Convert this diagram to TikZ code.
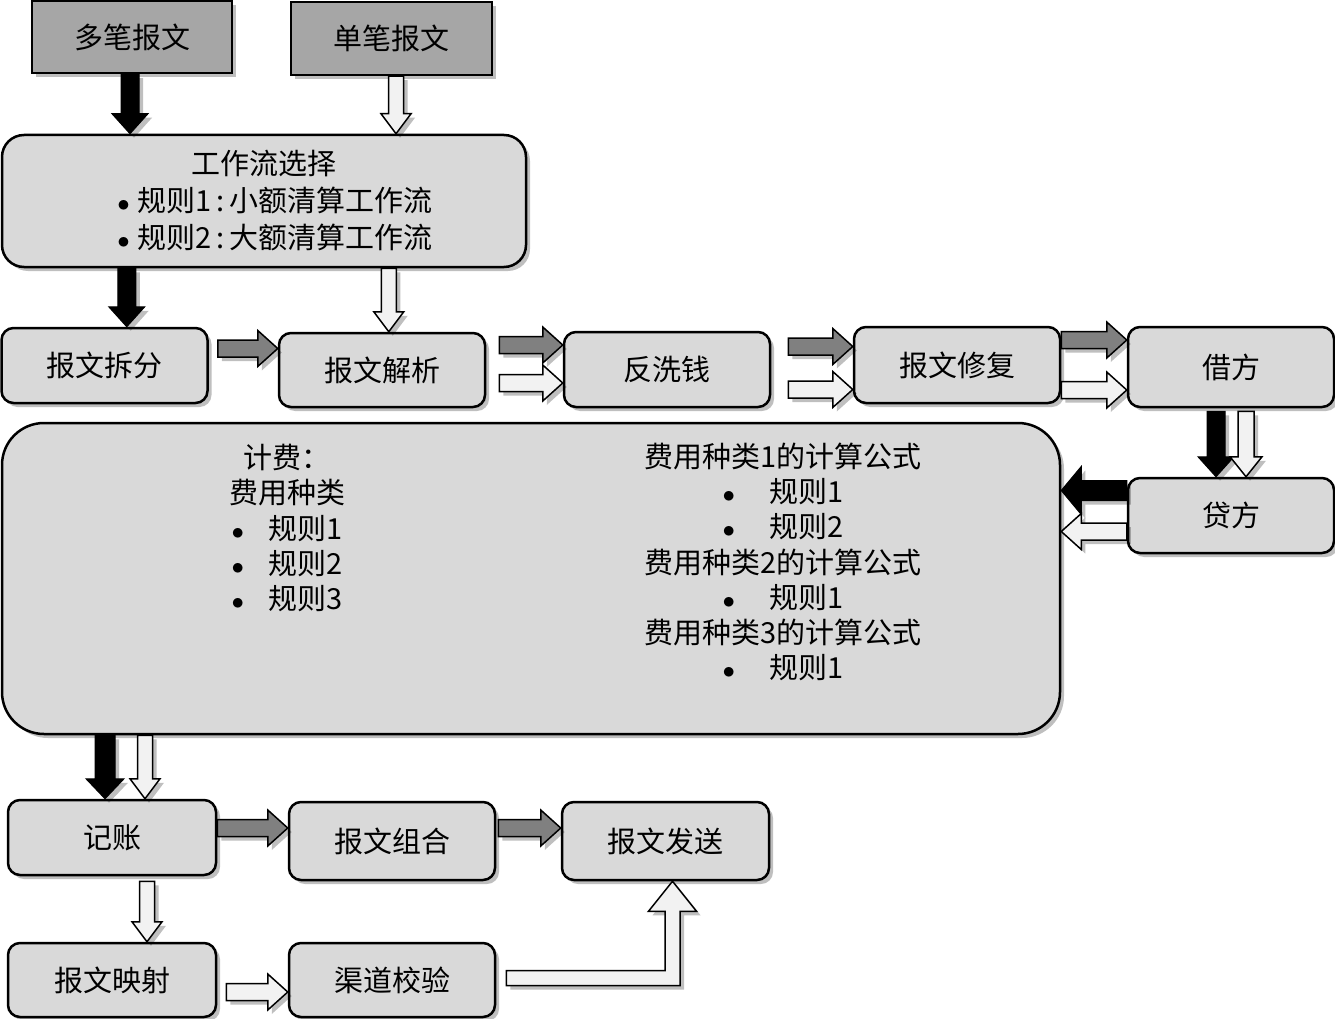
\documentclass[tikz,border=0pt]{standalone}
\usepackage{fontspec}
\setmainfont{Noto Sans CJK SC}
\usetikzlibrary{calc, shadows}
\definecolor{srcgray}{HTML}{A6A6A6}
\definecolor{procgray}{HTML}{D9D9D9}
\definecolor{arrgray}{HTML}{808080}
\definecolor{arrwhite}{HTML}{F2F2F2}
\newcommand{\boxfont}{\fontsize{29}{35}\selectfont}
% block arrow: [style]{from}{to}{shaft half width}{head half width}
\newcommand{\blockarrow}[5][]{%
  \coordinate (ba-h) at ($(#3)!20pt!(#2)$);
  \draw[#1] ($(#2)!#4!90:(#3)$) -- ($(ba-h)!#4!90:(#3)$) -- ($(ba-h)!#5!90:(#3)$) -- (#3)
    -- ($(ba-h)!#5!-90:(#3)$) -- ($(ba-h)!#4!-90:(#3)$) -- ($(#2)!#4!-90:(#3)$) -- cycle;}
\tikzset{
  softshadow/.style={drop shadow={shadow xshift=4pt, shadow yshift=-4pt, fill=black, opacity=0.25}},
  srcbox/.style={draw, line width=2.5pt, fill=srcgray, minimum width=200pt, minimum height=72pt,
    font=\boxfont, softshadow},
  procbox/.style={draw, line width=2.5pt, rounded corners=12pt, fill=procgray, minimum width=206pt,
    minimum height=75pt, font=\boxfont, softshadow},
  feetext/.style={align=center, font=\fontsize{29}{35.3}\selectfont},
  blk/.style={fill=black, draw=black, line width=1pt, softshadow},
  gry/.style={fill=arrgray, draw=black, line width=1.5pt, softshadow},
  wht/.style={fill=arrwhite, draw=black, line width=1.5pt, softshadow},
}
\begin{document}
\begin{tikzpicture}[x=1pt, y=-1pt]
  \useasboundingbox (0,0) rectangle (1335,1019);
  % input messages
  \node[srcbox] (multi) at (132,37) {多笔报文};
  \node[srcbox, minimum width=201pt, minimum height=73pt] (single) at (391.5,38.5) {单笔报文};
  % workflow selection
  \node[procbox, minimum width=524pt, minimum height=132pt, rounded corners=22pt, align=center,
    font=\fontsize{29}{37}\selectfont] (wf) at (264,201)
    {工作流选择\\\hspace*{22pt}$\bullet$\hspace{8pt}规则1\,:\,小额清算工作流\\\hspace*{22pt}$\bullet$\hspace{8pt}规则2\,:\,大额清算工作流};
  % processing row
  \node[procbox] (split) at (104.5,365.5) {报文拆分};
  \node[procbox, minimum height=74pt] (parse) at (382,370) {报文解析};
  \node[procbox] (aml) at (667,369.5) {反洗钱};
  \node[procbox, minimum height=76pt] (repair) at (957,365) {报文修复};
  \node[procbox, minimum height=80pt] (debit) at (1231,367) {借方};
  \node[procbox] (credit) at (1231,515.5) {贷方};
  % charging
  \node[procbox, minimum width=1058pt, minimum height=311pt, rounded corners=42pt] (fee) at (531,578.5) {};
  \node[feetext] (feeL) at (287,528)
    {计费：\\费用种类\\$\bullet$\hspace{24pt}规则1\\$\bullet$\hspace{24pt}规则2\\$\bullet$\hspace{24pt}规则3};
  \node[feetext] (feeR) at (783,562)
    {费用种类1的计算公式\\$\bullet$\hspace{34pt}规则1\\$\bullet$\hspace{34pt}规则2\\费用种类2的计算公式\\
     $\bullet$\hspace{34pt}规则1\\费用种类3的计算公式\\$\bullet$\hspace{34pt}规则1};
  % output row
  \node[procbox, minimum width=208pt] (post) at (112,837.5) {记账};
  \node[procbox, minimum height=78pt] (combine) at (392,841) {报文组合};
  \node[procbox, minimum width=207pt, minimum height=78pt] (send) at (665.5,841) {报文发送};
  \node[procbox, minimum width=208pt, minimum height=74pt] (map) at (112,980) {报文映射};
  \node[procbox, minimum height=74pt] (check) at (392,980) {渠道校验};

  % arrow end points
  \coordinate (a1s) at ([xshift=-2pt]multi.south);
  \coordinate (a1e) at (a1s |- wf.north);
  \coordinate (a2s) at ([xshift=4.5pt]single.south);
  \coordinate (a2e) at (a2s |- wf.north);
  \coordinate (a3s) at ([xshift=126pt]wf.south west);
  \coordinate (a3e) at (a3s |- split.north);
  \coordinate (a4s) at ([xshift=388pt]wf.south west);
  \coordinate (a4e) at (a4s |- parse.north);
  \coordinate (a5s) at ([xshift=9pt,yshift=17pt]split.east);
  \coordinate (a5e) at (a5s -| parse.west);
  \coordinate (a6s) at ([xshift=13pt,yshift=25pt]parse.east);
  \coordinate (a6e) at (a6s -| aml.west);
  \coordinate (a7s) at ([xshift=13pt,yshift=-13pt]parse.east);
  \coordinate (a7e) at (a7s -| aml.west);
  \coordinate (a8s) at ([xshift=17pt,yshift=23pt]aml.east);
  \coordinate (a8e) at (a8s -| repair.west);
  \coordinate (a9s) at ([xshift=17pt,yshift=-20pt]aml.east);
  \coordinate (a9e) at (a9s -| repair.west);
  \coordinate (a10s) at ([yshift=25pt]repair.east);
  \coordinate (a10e) at (a10s -| debit.west);
  \coordinate (a11s) at ([yshift=-25pt]repair.east);
  \coordinate (a11e) at (a11s -| debit.west);
  \coordinate (a12s) at ([xshift=-15pt,yshift=-3pt]debit.south);
  \coordinate (a12e) at (a12s |- credit.north);
  \coordinate (a13s) at ([xshift=15pt,yshift=-3pt]debit.south);
  \coordinate (a13e) at (a13s |- credit.north);
  \coordinate (a14s) at ([yshift=25pt]credit.west);
  \coordinate (a14e) at (a14s -| fee.east);
  \coordinate (a15s) at ([yshift=-16pt]credit.west);
  \coordinate (a15e) at (a15s -| fee.east);
  \coordinate (a16e) at ([xshift=-7pt]post.north);
  \coordinate (a16s) at (a16e |- fee.south);
  \coordinate (a17e) at ([xshift=33pt]post.north);
  \coordinate (a17s) at (a17e |- fee.south);
  \coordinate (a18s) at ([yshift=9.5pt]post.east);
  \coordinate (a18e) at (a18s -| combine.west);
  \coordinate (a19s) at ([xshift=2pt,yshift=13pt]combine.east);
  \coordinate (a19e) at (a19s -| send.west);
  \coordinate (a20s) at ([xshift=35pt,yshift=-5pt]post.south);
  \coordinate (a20e) at (a20s |- map.north);
  \coordinate (a21s) at ([xshift=9pt,yshift=-12pt]map.east);
  \coordinate (a21e) at (a21s -| check.west);

  % block arrows
  \blockarrow[blk]{a1s}{a1e}{9pt}{18pt}
  \blockarrow[wht]{a2s}{a2e}{7.5pt}{15pt}
  \blockarrow[blk]{a3s}{a3e}{9pt}{18pt}
  \blockarrow[wht]{a4s}{a4e}{7.5pt}{15pt}
  \blockarrow[gry]{a5s}{a5e}{8.5pt}{18pt}
  \blockarrow[gry]{a6s}{a6e}{8.5pt}{18pt}
  \blockarrow[wht]{a7s}{a7e}{8.5pt}{18pt}
  \blockarrow[gry]{a8s}{a8e}{8.5pt}{18pt}
  \blockarrow[wht]{a9s}{a9e}{8.5pt}{18pt}
  \blockarrow[gry]{a10s}{a10e}{8.5pt}{18pt}
  \blockarrow[wht]{a11s}{a11e}{8.5pt}{18pt}
  \blockarrow[blk]{a12s}{a12e}{9pt}{18pt}
  \blockarrow[wht]{a13s}{a13e}{8pt}{16pt}
  \blockarrow[blk]{a14s}{a14e}{10pt}{24pt}
  \blockarrow[wht]{a15s}{a15e}{8.5pt}{18pt}
  \blockarrow[blk]{a16s}{a16e}{10pt}{19pt}
  \blockarrow[wht]{a17s}{a17e}{7.5pt}{15pt}
  \blockarrow[gry]{a18s}{a18e}{8.5pt}{18pt}
  \blockarrow[gry]{a19s}{a19e}{8.5pt}{18pt}
  \blockarrow[wht]{a20s}{a20e}{7.5pt}{15pt}
  \blockarrow[wht]{a21s}{a21e}{8.5pt}{18pt}

  % elbow arrow from channel check up to sending
  \coordinate (e0) at ([xshift=10pt,yshift=2pt]check.east);
  \coordinate (e2) at ([xshift=7pt]send.south);
  \coordinate (e1) at (e0 -| e2);
  \draw[wht] ([yshift=-7.5pt]e0) -- ([xshift=7.5pt,yshift=-7.5pt]e1) -- ([xshift=7.5pt,yshift=-30pt]e2)
    -- ([xshift=24pt,yshift=-30pt]e2) -- (e2) -- ([xshift=-24pt,yshift=-30pt]e2)
    -- ([xshift=-7.5pt,yshift=-30pt]e2) -- ([xshift=-7.5pt,yshift=7.5pt]e1) -- ([yshift=7.5pt]e0) -- cycle;
\end{tikzpicture}
\end{document}
